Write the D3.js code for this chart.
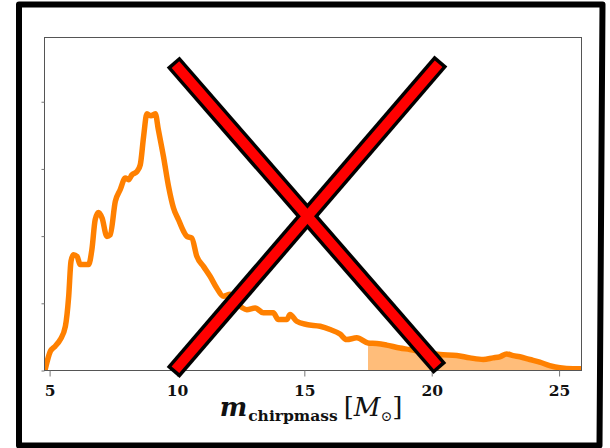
<!DOCTYPE html>
<html>
<head>
<meta charset="utf-8">
<script src="https://cdn.jsdelivr.net/npm/d3@7"></script>
<style>
  html, body { margin: 0; padding: 0; background: #fff; }
  svg { display: block; }
</style>
</head>
<body>
<svg id="chart" width="610" height="448"></svg>
<script>
// Chirp-mass posterior density (KDE)
const chirpMass = [
  4.83, 5.03, 5.22, 5.42, 5.62, 5.75, 5.84, 5.94, 6.08, 6.20,
  6.53, 6.66, 6.79, 6.92, 7.06, 7.25, 7.38, 7.58, 7.77, 7.97,
  8.10, 8.23, 8.43, 8.56, 8.69, 8.82, 8.98, 9.15, 9.27, 9.47,
  9.67, 9.86, 10.06, 10.26, 10.39, 10.58, 10.78, 11.04, 11.30, 11.56,
  11.82, 12.09, 12.35, 12.74, 13.07, 13.39, 13.78, 13.98, 14.31, 14.44,
  14.70, 15.09, 15.62, 16.01, 16.40, 16.66, 17.06, 17.50, 17.84, 18.23,
  18.75, 19.14, 19.73, 20.32, 20.98, 21.50, 22.02, 22.41, 22.67, 22.94,
  23.20, 23.46, 23.85, 24.24, 24.63, 25.03, 25.55, 25.88
];
const density = [
  0.0010, 0.0143, 0.0181, 0.0230, 0.0329, 0.0552, 0.0812, 0.0862, 0.0849, 0.0788,
  0.0788, 0.0899, 0.1122, 0.1176, 0.1135, 0.0998, 0.1010, 0.1258, 0.1345, 0.1432,
  0.1419, 0.1456, 0.1481, 0.1531, 0.1741, 0.1910, 0.1895, 0.1910, 0.1791, 0.1592,
  0.1369, 0.1211, 0.1122, 0.1035, 0.0998, 0.0986, 0.0849, 0.0775, 0.0701, 0.0614,
  0.0552, 0.0568, 0.0503, 0.0453, 0.0466, 0.0429, 0.0429, 0.0379, 0.0379, 0.0416,
  0.0366, 0.0342, 0.0329, 0.0305, 0.0271, 0.0230, 0.0243, 0.0205, 0.0201, 0.0189,
  0.0167, 0.0156, 0.0134, 0.0119, 0.0111, 0.0094, 0.0082, 0.0094, 0.0102, 0.0123,
  0.0111, 0.0102, 0.0082, 0.0062, 0.0037, 0.0020, 0.0013, 0.0013
];

// Shaded tail starts here
const tailStart = 17.5;

// Axis ticks
const xTickValues = [5, 10, 15, 20, 25];
const yTickValues = [0, 0.05, 0.10, 0.15, 0.20];

// Crossing-out strokes, in data coordinates
const crossStrokeA = [[9.85, 0.2296], [20.32, 0.0015]];
const crossStrokeB = [[20.36, 0.2303], [9.85, -0.0015]];

const svg = d3.select("#chart");
const W = 610, H = 448;
const plot = { left: 44.5, right: 581.5, top: 37.5, bottom: 370.5 };

const x = d3.scaleLinear().domain([4.8, 25.88]).range([plot.left, plot.right]);
const y = d3.scaleLinear().domain([0, 0.2478]).range([plot.bottom, plot.top]);

const pts = chirpMass.map((m, i) => ({ m, d: density[i] }));

svg.append("rect").attr("width", W).attr("height", H).attr("fill", "#fff");

svg.append("defs").append("clipPath").attr("id", "plotClip")
  .append("rect")
  .attr("x", plot.left).attr("y", plot.top)
  .attr("width", plot.right - plot.left).attr("height", plot.bottom - plot.top);

// Shaded tail of the distribution
const tail = pts.filter(p => p.m >= tailStart);
svg.append("path")
  .datum(tail)
  .attr("clip-path", "url(#plotClip)")
  .attr("fill", "#ff8000")
  .attr("fill-opacity", 0.52)
  .attr("d", d3.area().curve(d3.curveMonotoneX).x(p => x(p.m)).y0(y(0)).y1(p => y(p.d)));

// Density curve
svg.append("path")
  .datum(pts)
  .attr("clip-path", "url(#plotClip)")
  .attr("fill", "none")
  .attr("stroke", "#ff8000")
  .attr("stroke-width", 5.5)
  .attr("stroke-linejoin", "round")
  .attr("stroke-linecap", "round")
  .attr("d", d3.line().curve(d3.curveMonotoneX).x(p => x(p.m)).y(p => y(p.d)));

// Axes frame
svg.append("rect")
  .attr("x", plot.left).attr("y", plot.top)
  .attr("width", plot.right - plot.left).attr("height", plot.bottom - plot.top)
  .attr("fill", "none").attr("stroke", "#555").attr("stroke-width", 1);

// Bottom axis
const xAxis = svg.append("g")
  .attr("transform", `translate(0,${plot.bottom})`)
  .call(d3.axisBottom(x).tickValues(xTickValues).tickSize(6).tickPadding(8).tickFormat(d3.format("d")));
xAxis.select(".domain").remove();
xAxis.selectAll(".tick line").attr("stroke", "#777").attr("stroke-width", 1);
xAxis.selectAll(".tick text")
  .attr("fill", "#111")
  .style("font-family", "'DejaVu Serif', serif")
  .style("font-weight", "bold")
  .style("font-size", "15.5px");

// Left axis: ticks only
const yAxis = svg.append("g")
  .attr("transform", `translate(${plot.left},0)`)
  .call(d3.axisLeft(y).tickValues(yTickValues).tickSize(3).tickFormat(""));
yAxis.select(".domain").remove();
yAxis.selectAll(".tick line").attr("stroke", "#777").attr("stroke-width", 1);

// Axis title: m_chirpmass [M_⊙]
const title = svg.append("text")
  .attr("x", 311).attr("y", 416)
  .attr("text-anchor", "middle")
  .style("font-family", "'DejaVu Serif', serif")
  .attr("fill", "#111");
title.append("tspan").text("m")
  .style("font-style", "italic").style("font-weight", "bold").style("font-size", "26px");
title.append("tspan").text("chirpmass")
  .attr("dy", 5).attr("dx", 1)
  .style("font-weight", "bold").style("font-size", "15.5px");
title.append("tspan").text("[")
  .attr("dy", -5).attr("dx", 6)
  .style("font-size", "26px");
title.append("tspan").text("M")
  .style("font-style", "italic").style("font-size", "26px");
title.append("tspan").text("⊙")
  .attr("dy", 5)
  .style("font-size", "14px");
title.append("tspan").text("]")
  .attr("dy", -5)
  .style("font-size", "26px");

// Red cross drawn over the chart
function strokeEnds(seg, inset) {
  const [a, b] = seg.map(([m, d]) => [x(m), y(d)]);
  const dx = b[0] - a[0], dy = b[1] - a[1];
  const len = Math.hypot(dx, dy);
  const ux = dx / len, uy = dy / len;
  return [[a[0] + ux * inset, a[1] + uy * inset], [b[0] - ux * inset, b[1] - uy * inset]];
}
const cross = svg.append("g");
const strokes = [crossStrokeA, crossStrokeB];
strokes.forEach(seg => {
  const [p, q] = strokeEnds(seg, 0);
  cross.append("line")
    .attr("x1", p[0]).attr("y1", p[1]).attr("x2", q[0]).attr("y2", q[1])
    .attr("stroke", "#000").attr("stroke-width", 17).attr("stroke-linecap", "butt");
});
strokes.forEach(seg => {
  const [p, q] = strokeEnds(seg, 3.5);
  cross.append("line")
    .attr("x1", p[0]).attr("y1", p[1]).attr("x2", q[0]).attr("y2", q[1])
    .attr("stroke", "#ff0000").attr("stroke-width", 10).attr("stroke-linecap", "butt");
});

// Outer black frame
svg.append("path")
  .attr("d", d3.line()([[19, 4.5], [602.5, 4.5], [599.5, 445.5], [19, 445.5]]) + "Z")
  .attr("fill", "none")
  .attr("stroke", "#000")
  .attr("stroke-width", 6)
  .attr("stroke-linejoin", "round");
</script>
</body>
</html>
